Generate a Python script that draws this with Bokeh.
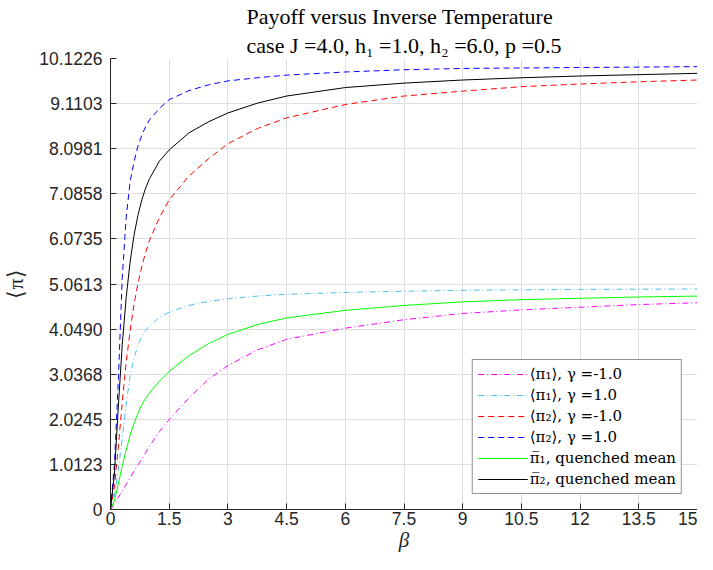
from bokeh.plotting import figure
from bokeh.models import Legend, LegendItem, FixedTicker, Range1d
from bokeh.embed import file_html
from bokeh.resources import INLINE

beta = [0, 0.1, 0.2, 0.3, 0.4, 0.5, 0.6, 0.7, 0.8, 0.9, 1.0, 1.25, 1.5, 2.0, 2.5, 3.0,
        3.75, 4.5, 6.0, 7.5, 9.0, 10.5, 12.0, 13.5, 15.0]

pi1_gm1 = [0, 0.12, 0.27, 0.42, 0.56, 0.71, 0.86, 1.0, 1.13, 1.28, 1.42, 1.75, 2.02, 2.5, 2.92, 3.23,
           3.58, 3.82, 4.07, 4.26, 4.40, 4.48, 4.54, 4.60, 4.64]
pi1_gp1 = [0, 0.28, 0.9, 1.6, 2.35, 3.0, 3.4, 3.68, 3.88, 4.02, 4.12, 4.31, 4.43, 4.58, 4.67, 4.73,
           4.79, 4.83, 4.87, 4.90, 4.92, 4.93, 4.94, 4.945, 4.95]
pi2_gm1 = [0, 0.5, 1.4, 2.4, 3.3, 4.0, 4.6, 5.07, 5.45, 5.78, 6.05, 6.55, 6.95, 7.48, 7.87, 8.21,
           8.55, 8.79, 9.09, 9.28, 9.39, 9.49, 9.55, 9.60, 9.64]
pi2_gp1 = [0, 1.0, 2.9, 5.2, 6.55, 7.35, 7.8, 8.15, 8.4, 8.6, 8.75, 9.0, 9.20, 9.40, 9.53, 9.62,
           9.69, 9.75, 9.82, 9.87, 9.90, 9.91, 9.92, 9.93, 9.94]
pi1_q = [0, 0.2, 0.57, 0.98, 1.33, 1.67, 1.93, 2.16, 2.35, 2.5, 2.62, 2.88, 3.1, 3.45, 3.72, 3.93,
         4.15, 4.30, 4.47, 4.58, 4.66, 4.71, 4.74, 4.77, 4.79]
pi2_q = [0, 0.8, 2.3, 3.7, 4.75, 5.55, 6.15, 6.6, 6.95, 7.22, 7.43, 7.82, 8.07, 8.45, 8.70, 8.90,
         9.12, 9.28, 9.47, 9.57, 9.64, 9.69, 9.73, 9.76, 9.79]

x_ticks = [0, 1.5, 3, 4.5, 6, 7.5, 9, 10.5, 12, 13.5, 15]
x_tick_labels = ["0", "1.5", "3", "4.5", "6", "7.5", "9", "10.5", "12", "13.5", "15"]
y_tick_labels = ["0", "1.0123", "2.0245", "3.0368", "4.0490", "5.0613", "6.0735",
                 "7.0858", "8.0981", "9.1103", "10.1226"]

title_lines = ["Payoff versus Inverse Temperature", "case J =4.0, h₁ =1.0, h₂ =6.0, p =0.5"]
series_labels = ["⟨π₁⟩, γ =-1.0", "⟨π₁⟩, γ =1.0", "⟨π₂⟩, γ =-1.0", "⟨π₂⟩, γ =1.0",
                 "π̅₁, quenched mean", "π̅₂, quenched mean"]

y_ticks = [float(s) for s in y_tick_labels]

p = figure(width=697, height=554, output_backend="svg", toolbar_location=None,
           title="\n".join(title_lines),
           x_range=Range1d(0, 15), y_range=Range1d(0, y_ticks[-1]),
           min_border_left=104, min_border_right=0, min_border_top=53, min_border_bottom=40)
p.title.align = "center"
p.title.text_font = "Liberation Serif"
p.title.text_font_size = "22px"
p.title.text_font_style = "normal"
p.title.text_color = "black"
p.title.text_line_height = 1.15
p.title.standoff = 2

p.outline_line_color = None
p.background_fill_color = "white"

for ax in (p.xaxis[0], p.yaxis[0]):
    ax.axis_line_color = "#262626"
    ax.major_tick_line_color = "#262626"
    ax.major_tick_in = 6
    ax.major_tick_out = 0
    ax.minor_tick_line_color = None
    ax.major_label_text_font = "Liberation Sans"
    ax.major_label_text_font_size = "17.5px"
    ax.major_label_text_color = "#262626"
    ax.axis_label_text_font = "Liberation Serif"
    ax.axis_label_text_font_style = "italic"
    ax.axis_label_text_font_size = "21px"
    ax.axis_label_text_color = "#262626"

p.xaxis[0].ticker = FixedTicker(ticks=x_ticks)
p.xaxis[0].major_label_overrides = {t: l for t, l in zip(x_ticks, x_tick_labels)}
p.yaxis[0].ticker = FixedTicker(ticks=y_ticks)
p.yaxis[0].major_label_overrides = {t: l for t, l in zip(y_ticks, y_tick_labels)}
p.xaxis[0].axis_label = "β"
p.yaxis[0].axis_label = "⟨π⟩"
p.yaxis[0].axis_label_text_font_style = "normal"
p.yaxis[0].axis_label_text_font_size = "22px"
p.xaxis[0].major_label_standoff = 2
p.yaxis[0].major_label_standoff = 8
p.xaxis[0].axis_label_standoff = 0
p.yaxis[0].axis_label_standoff = 8

p.xgrid.ticker = FixedTicker(ticks=x_ticks)
p.ygrid.ticker = FixedTicker(ticks=y_ticks)
for g in (p.xgrid[0], p.ygrid[0]):
    g.grid_line_color = "#dfdfdf"
    g.grid_line_width = 1

styles = [
    (pi1_gm1, "#FF00FF", "6 3 1 3"),
    (pi1_gp1, "#4DBEEE", "6 3 1 3"),
    (pi2_gm1, "#FF0000", "6 4"),
    (pi2_gp1, "#0000FF", "6 4"),
    (pi1_q, "#00FF00", "solid"),
    (pi2_q, "#000000", "solid"),
]
items = []
for (ys, col, dash), lab in zip(styles, series_labels):
    r = p.line(beta, ys, line_color=col, line_width=1, line_dash=dash)
    items.append(LegendItem(label=lab, renderers=[r]))

legend = Legend(items=items, location="bottom_right", label_text_font="DejaVu Serif",
                label_text_font_size="15px", label_text_color="black",
                glyph_width=50, glyph_height=16, label_height=16, spacing=3,
                label_standoff=2, padding=5, margin=15,
                border_line_color="#262626", border_line_width=1,
                background_fill_color="white", background_fill_alpha=1.0)
p.add_layout(legend, "center")

open("out.html", "w").write(file_html(p, INLINE))
